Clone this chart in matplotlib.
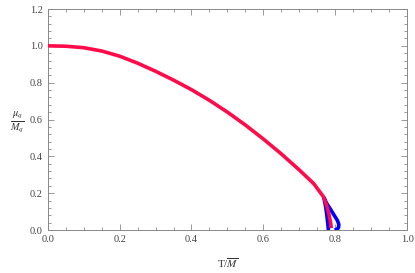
import numpy as np
import matplotlib.pyplot as plt
from matplotlib.ticker import MultipleLocator

plt.rcParams['font.family'] = ['Liberation Serif', 'DejaVu Serif']
plt.rcParams['mathtext.fontset'] = 'stix'

# ramo vermelho: mu_q/M_q contra T/M
t_red = [0.0, 0.05, 0.10, 0.15, 0.20, 0.25, 0.30, 0.35, 0.40, 0.45, 0.50,
         0.55, 0.60, 0.65, 0.70, 0.74, 0.767, 0.775, 0.782, 0.787, 0.789]
mu_red = [1.0, 0.998, 0.990, 0.972, 0.944, 0.906, 0.862, 0.814, 0.762, 0.704, 0.640,
          0.570, 0.494, 0.413, 0.326, 0.252, 0.181, 0.140, 0.090, 0.040, 0.010]

# ramo azul (laco perto de T ~ 0.8)
t_blue = [0.781, 0.779, 0.776, 0.773, 0.770, 0.769, 0.776, 0.786, 0.797, 0.806,
          0.810, 0.809, 0.804, 0.798]
mu_blue = [0.0, 0.04, 0.09, 0.13, 0.16, 0.175, 0.145, 0.115, 0.080, 0.052,
           0.030, 0.012, 0.003, 0.0]

fig = plt.figure(figsize=(4.15, 2.73), dpi=100)
ax = fig.add_axes([0.115, 0.1575, 0.866, 0.8095])

ax.plot(t_blue, mu_blue, color='#0000ff', linewidth=2.6, solid_capstyle='butt', zorder=2)
ax.plot(t_red, mu_red, color='#ff0a4a', linewidth=2.6, solid_capstyle='butt', zorder=3)

ax.set_xlim(0, 1.0)
ax.set_ylim(0, 1.2)
ax.xaxis.set_major_locator(MultipleLocator(0.2))
ax.xaxis.set_minor_locator(MultipleLocator(0.05))
ax.yaxis.set_major_locator(MultipleLocator(0.2))
ax.yaxis.set_minor_locator(MultipleLocator(0.04))
ax.xaxis.set_major_formatter(plt.FuncFormatter(lambda v, p: f'{v:.1f}'))
ax.yaxis.set_major_formatter(plt.FuncFormatter(lambda v, p: f'{v:.1f}'))

for s in ax.spines.values():
    s.set_color('#888888')
    s.set_linewidth(0.7)
ax.tick_params(which='both', direction='in', top=True, right=True, color='#888888',
               labelsize=7.5, labelcolor='#444444', width=0.6)
ax.tick_params(which='major', length=4)
ax.tick_params(which='minor', length=2)

ax.set_xlabel(r'T/$\overline{M}$', fontsize=8, color='#333333', labelpad=9)
ax.set_ylabel(r'$\frac{\mu_q}{M_q}$', fontsize=10.5, rotation=0, color='#333333', labelpad=10)
ax.yaxis.set_label_coords(-0.085, 0.43)

fig.savefig('out.png', dpi=100)
